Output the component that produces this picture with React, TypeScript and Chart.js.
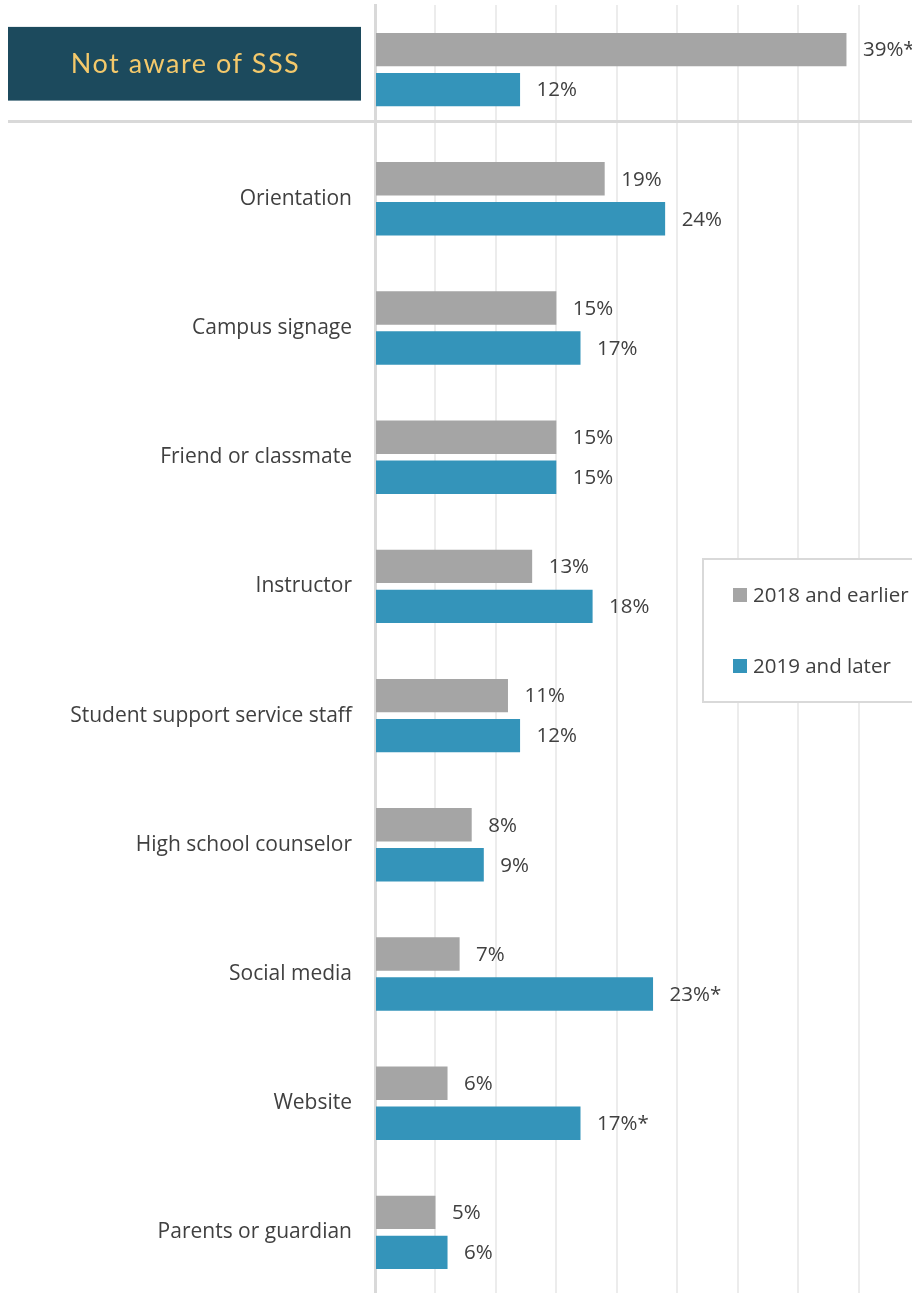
import React, { useEffect, useRef } from 'react';
import { Chart, registerables } from 'chart.js';

Chart.register(...registerables);

const categories = [
  'Not aware of SSS',
  'Orientation',
  'Campus signage',
  'Friend or classmate',
  'Instructor',
  'Student support service staff',
  'High school counselor',
  'Social media',
  'Website',
  'Parents or guardian',
];
const seriesNames = ['2018 and earlier', '2019 and later'];
const values2018 = [39, 19, 15, 15, 13, 11, 8, 7, 6, 5];
const values2019 = [12, 24, 17, 15, 18, 12, 9, 23, 17, 6];
const significant2018 = [true, false, false, false, false, false, false, false, false, false];
const significant2019 = [false, false, false, false, false, false, false, true, true, false];
const xMax = 45;
const xStep = 5;

const COLOR_2018 = '#a5a5a5';
const COLOR_2019 = '#3494ba';
const TEXT = '#404040';
const FONT = '"Open Sans", "Noto Sans", sans-serif';

const overlayPlugin = {
  id: 'overlay',
  afterDatasetsDraw(chart: any) {
    const ctx = chart.ctx;
    const flags = [significant2018, significant2019];
    chart.data.datasets.forEach((ds: any, di: number) => {
      const meta = chart.getDatasetMeta(di);
      meta.data.forEach((bar: any, i: number) => {
        const text = `${ds.data[i]}%${flags[di][i] ? '*' : ''}`;
        ctx.save();
        ctx.font = `20.5px ${FONT}`;
        ctx.fillStyle = TEXT;
        ctx.textAlign = 'left';
        ctx.textBaseline = 'middle';
        ctx.fillText(text, bar.x + 16.5, bar.y + 1);
        ctx.restore();
      });
    });
  },
  afterDraw(chart: any) {
    const ctx = chart.ctx;
    const yScale = chart.scales.y;
    const yc = yScale.getPixelForValue(0);
    ctx.save();
    // separator line below the first category
    ctx.strokeStyle = '#d9d9d9';
    ctx.lineWidth = 3;
    ctx.beginPath();
    ctx.moveTo(8, yc + 52);
    ctx.lineTo(chart.width, yc + 52);
    ctx.stroke();
    // highlighted first category label box
    ctx.fillStyle = '#1c4a5d';
    ctx.fillRect(8, yc - 42.7, 353, 73.7);
    ctx.fillStyle = '#f4c96b';
    ctx.font = `27px Lato, ${FONT}`;
    try { (ctx as any).letterSpacing = '1.5px'; } catch (e) {}
    ctx.textAlign = 'center';
    ctx.textBaseline = 'middle';
    ctx.fillText(categories[0], 185.5, yc - 5.5);
    try { (ctx as any).letterSpacing = '0px'; } catch (e) {}
    // legend
    ctx.fillStyle = '#ffffff';
    ctx.fillRect(703, 559, 240, 143);
    ctx.strokeStyle = '#d9d9d9';
    ctx.lineWidth = 2;
    ctx.strokeRect(703, 559, 240, 143);
    const items = [
      { name: seriesNames[0], color: COLOR_2018, y: 595 },
      { name: seriesNames[1], color: COLOR_2019, y: 666 },
    ];
    items.forEach((it) => {
      ctx.fillStyle = it.color;
      ctx.fillRect(733, it.y - 7, 14, 14);
      ctx.fillStyle = TEXT;
      ctx.font = `20.5px ${FONT}`;
      ctx.textAlign = 'left';
      ctx.textBaseline = 'middle';
      ctx.fillText(it.name, 753, it.y + 1);
    });
    ctx.restore();
  },
};

export default function App() {
  const canvasRef = useRef<HTMLCanvasElement | null>(null);

  useEffect(() => {
    document.body.style.margin = '0';
    const canvas = canvasRef.current;
    if (!canvas) return;
    const chart = new Chart(canvas, {
      type: 'bar',
      data: {
        labels: categories,
        datasets: [
          {
            label: seriesNames[0],
            data: values2018,
            backgroundColor: COLOR_2018,
            categoryPercentage: 0.619,
            barPercentage: 0.835,
          },
          {
            label: seriesNames[1],
            data: values2019,
            backgroundColor: COLOR_2019,
            categoryPercentage: 0.619,
            barPercentage: 0.835,
          },
        ],
      },
      options: {
        indexAxis: 'y',
        responsive: false,
        animation: false,
        devicePixelRatio: 1,
        layout: { autoPadding: false, padding: { top: 5, bottom: 0, left: 0, right: 0 } },
        plugins: {
          legend: { display: false },
          tooltip: { enabled: false },
        },
        scales: {
          x: {
            min: 0,
            max: xMax,
            ticks: { display: false, stepSize: xStep },
            grid: { color: '#ececec', lineWidth: 2, drawTicks: false },
            border: { display: false },
            afterFit: (scale: any) => {
              scale.height = 0;
              scale.paddingLeft = 0;
              scale.paddingRight = 0;
            },
          },
          y: {
            ticks: {
              color: TEXT,
              font: { family: FONT, size: 21 },
              padding: 23,
              callback: (_v: any, i: number) => (i === 0 ? '' : categories[i]),
            },
            grid: { display: false, drawTicks: false },
            border: { color: '#d9d9d9', width: 3 },
            afterFit: (scale: any) => {
              scale.width = 375;
              scale.paddingTop = 0;
              scale.paddingBottom = 0;
              if (scale._margins) {
                scale._margins.top = 0;
                scale._margins.bottom = 0;
              }
            },
          },
        },
      },
      plugins: [overlayPlugin],
    });
    return () => chart.destroy();
  }, []);

  return (
    <div style={{ width: 912, height: 1293, overflow: 'hidden', position: 'relative' }}>
      <canvas ref={canvasRef} width={919} height={1297} style={{ display: 'block', width: 919, height: 1297 }} />
    </div>
  );
}
